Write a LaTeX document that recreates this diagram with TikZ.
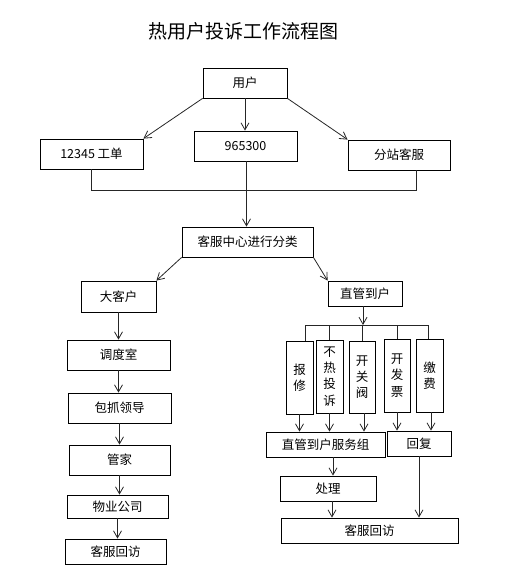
\documentclass[tikz,border=0pt]{standalone}
\usepackage{fontspec}
\setmainfont{Noto Sans CJK SC}
\usetikzlibrary{arrows.meta}
\begin{document}
\begin{tikzpicture}[x=1pt,y=-1pt,
  box/.style={draw,line width=0.8pt,inner sep=0pt,font={\fontsize{12.5}{16.3}\selectfont},align=center},
  vbox/.style={box},
  conn/.style={line width=0.8pt,draw=black!85},
  arr/.style={conn,-{Straight Barb[length=7pt,width=8pt]}}]
\useasboundingbox (0,0) rectangle (506,580);
\node[font={\fontsize{19}{19}\selectfont}] (title) at (243,31) {热用户投诉工作流程图};
\node[box,minimum width=84,minimum height=30] (user) at (245,83) {用户};
\node[box,minimum width=103,minimum height=30] (b12345) at (91.5,154) {12345 工单};
\node[box,minimum width=103,minimum height=30] (b965) at (245.5,146) {965300};
\node[box,minimum width=102,minimum height=30] (fz) at (399,155) {分站客服};
\node[box,minimum width=131,minimum height=30] (kf) at (247.5,242) {客服中心进行分类};
\node[box,minimum width=75,minimum height=31] (dkh) at (118.5,296.5) {大客户};
\node[box,minimum width=74,minimum height=25] (zg) at (365,293.5) {直管到户};
\node[box,minimum width=103,minimum height=30] (dds) at (118.5,355) {调度室};
\node[box,minimum width=103,minimum height=30] (bz) at (119.5,408) {包抓领导};
\node[box,minimum width=101,minimum height=30] (gj) at (119.5,460) {管家};
\node[box,minimum width=101,minimum height=23] (wy) at (117.5,506.5) {物业公司};
\node[box,minimum width=101,minimum height=25] (kfhfa) at (115.5,551.5) {客服回访};
\node[vbox,minimum width=27,minimum height=73] (bx) at (299.5,377.5) {报\\修};
\node[vbox,minimum width=27,minimum height=73] (br) at (329.5,376.5) {不\\热\\投\\诉};
\node[vbox,minimum width=26,minimum height=72] (kg) at (362,377) {开\\关\\阀};
\node[vbox,minimum width=26,minimum height=73] (kfp) at (397,375.5) {开\\发\\票};
\node[vbox,minimum width=27,minimum height=73] (jf) at (429.5,375.5) {缴\\费};
\node[box,minimum width=119,minimum height=25] (fwz) at (325.5,444.5) {直管到户服务组};
\node[box,minimum width=64,minimum height=25] (hf) at (419,443.5) {回复};
\node[box,minimum width=96,minimum height=25] (cl) at (328,488.5) {处理};
\node[box,minimum width=177,minimum height=25] (kfhfb) at (369.5,530.5) {客服回访};
% top
\draw[arr] (user.south west) -- (b12345.north east);
\draw[arr] (user.south) -- (user.south |- b965.north);
\draw[arr] (user.south east) -- (fz.north west);
\coordinate (busL) at (91.5,190);
\coordinate (busR) at (416,190);
\draw[conn] (b12345.south) -- (busL) -- (busR) -- ([xshift=17]fz.south);
\draw[arr] ([xshift=1]b965.south) -- ([xshift=1]b965.south |- kf.north);
\draw[arr] (kf.south west) -- (dkh.north east);
\draw[arr] (kf.south east) -- (zg.north west);
% left column
\draw[arr] (dkh.south) -- (dkh.south |- dds.north);
\draw[arr] (dds.south) -- (dds.south |- bz.north);
\draw[arr] (bz.south) -- (bz.south |- gj.north);
\draw[arr] (gj.south) -- (gj.south |- wy.north);
\draw[arr] (wy.south) -- (wy.south |- kfhfa.north);
% right column
\coordinate (zbus) at (363,325);
\coordinate (zbusL) at (305,325);
\coordinate (zbusR) at (428,325);
\draw[arr] ([xshift=-2]zg.south) -- (zbus);
\draw[conn] (zbusL) -- (zbusR);
\draw[conn] (zbusL) -- ([xshift=5.5]bx.north);
\draw[conn] (zbusL -| br.north) -- (br.north);
\draw[conn] (zbusL -| kg.north) -- (kg.north);
\draw[conn] (zbusL -| kfp.north) -- (kfp.north);
\draw[conn] (zbusR) -- ([xshift=-1.5]jf.north);
\draw[arr] (bx.south) -- (bx.south |- fwz.north);
\draw[arr] (br.south) -- (br.south |- fwz.north);
\draw[arr] ([xshift=2]kg.south) -- ([xshift=2]kg.south |- fwz.north);
\draw[arr] (kfp.south) -- (kfp.south |- hf.north);
\draw[arr] ([xshift=1.5]jf.south) -- ([xshift=1.5]jf.south |- hf.north);
\draw[arr] ([xshift=7.5]fwz.south) -- ([xshift=7.5]fwz.south |- cl.north);
\draw[arr] ([xshift=4]cl.south) -- ([xshift=4]cl.south |- kfhfb.north);
\draw[arr] (hf.south) -- (hf.south |- kfhfb.north);
\end{tikzpicture}
\end{document}
